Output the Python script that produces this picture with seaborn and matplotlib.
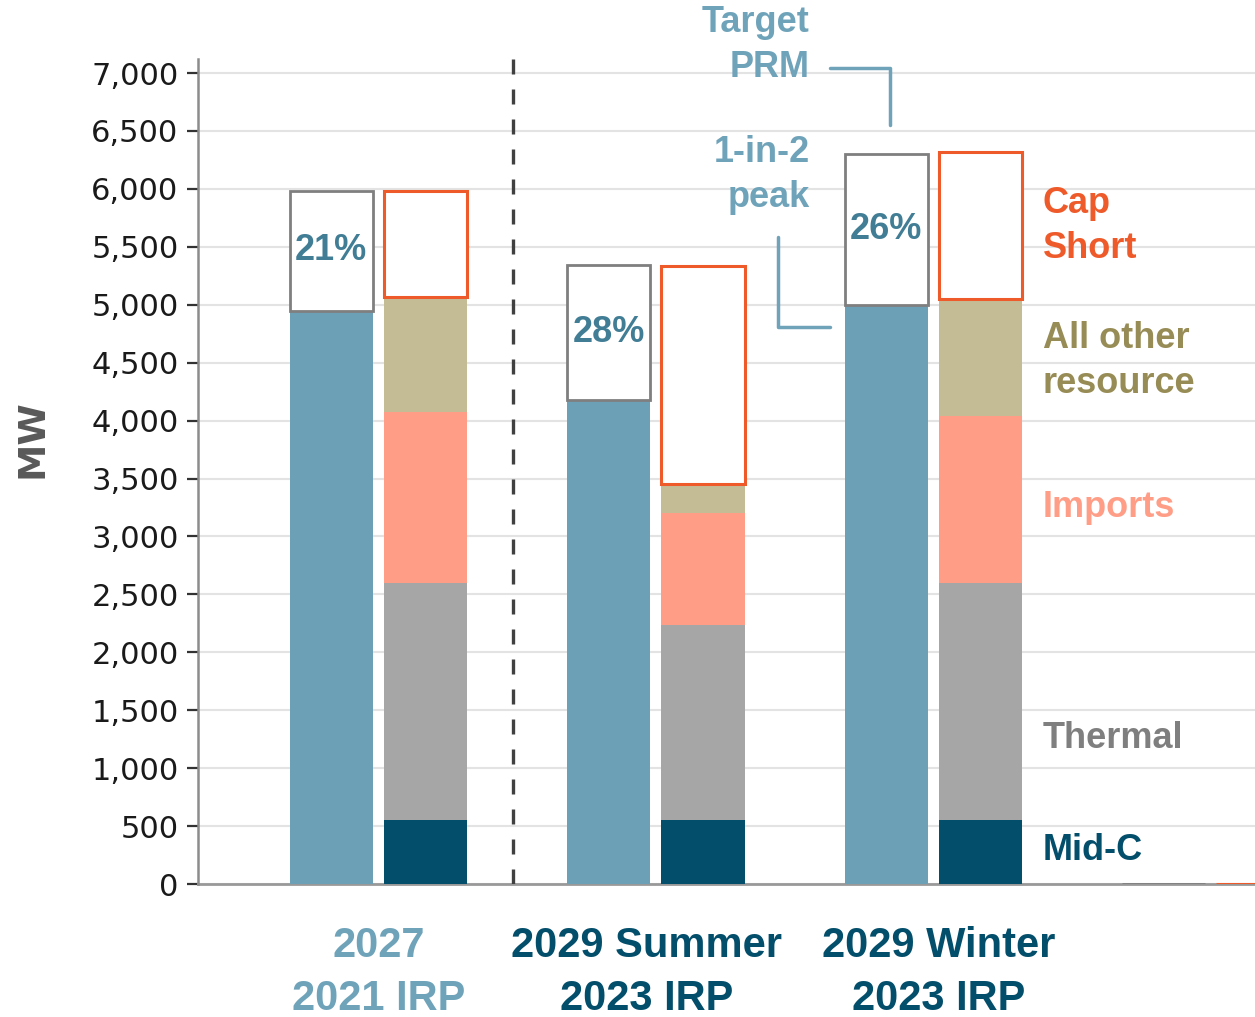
import numpy as np
import pandas as pd
import seaborn as sns
import matplotlib.pyplot as plt
from matplotlib.ticker import FuncFormatter

# data (MW), last group is an empty placeholder
groups = ['2027\n2021 IRP', '2029 Summer\n2023 IRP', '2029 Winter\n2023 IRP', '']
peak = [4950, 4175, 5000, 0]          # 1-in-2 peak
target_prm = [5980, 5340, 6300, 0]    # peak + planning reserve margin
prm_pct = ['21%', '28%', '26%']
mid_c = [550, 550, 550, 0]
thermal = [2050, 1685, 2050, 0]
imports = [1475, 965, 1440, 0]
all_other = [990, 250, 1010, 0]
cap_short = [915, 1880, 1270, 0]

c_peak = '#6ca0b7'
c_midc = '#034e6b'
c_thermal = '#a6a6a6'
c_imports = '#ff9d86'
c_other = '#c3bc95'
c_short = '#ee5a29'
c_anno = '#6fa3ba'

sns.set_style('white')
plt.rcParams['font.family'] = ['Liberation Sans', 'DejaVu Sans']
bold = dict(family=['Liberation Sans', 'DejaVu Sans'], weight='bold')

fig = plt.figure(figsize=(12.55, 10.17), dpi=100)
ax = fig.add_axes([198 / 1255, 1 - 884 / 1017, 1 - 198 / 1255, (884 - 59) / 1017])

x_need = np.arange(len(groups)) - 0.17
x_res = np.arange(len(groups)) + 0.17


def seg(x, h, b, color, ec='none', lw=0):
    sns.barplot(x=x, y=h, bottom=b, native_scale=True, width=0.30, errorbar=None,
                orient='x', color=color, saturation=1, edgecolor=ec, linewidth=lw,
                zorder=2, ax=ax)


# left bars: peak + PRM box
prm_h = np.array(target_prm) - np.array(peak)
seg(x_need, peak, 0, c_peak)
seg(x_need, prm_h, peak, 'white', '#7f7f7f', 2)

# right bars: stacked resources + cap short
b = np.zeros(len(groups))
for vals, col in [(mid_c, c_midc), (thermal, c_thermal), (imports, c_imports), (all_other, c_other)]:
    seg(x_res, vals, b, col)
    b = b + np.array(vals)
seg(x_res, cap_short, b, 'white', c_short, 2.2)

# percent labels inside PRM boxes
for i, t in enumerate(prm_pct):
    ax.text(x_need[i], (peak[i] + target_prm[i]) / 2, t, ha='center', va='center',
            fontsize=26, color='#417d95', **bold)

# divider
ax.axvline(0.485, color='#404040', lw=2.4, ls=(0, (4.5, 4.5)), zorder=3)

# axes styling
ax.set_xlim(-0.65, 3.159)
ax.set_ylim(0, 7121)
ax.set_yticks(np.arange(0, 7001, 500))
ax.yaxis.set_major_formatter(FuncFormatter(lambda v, p: f'{int(v):,}'))
ax.tick_params(axis='y', labelsize=22, length=8, width=1.6, color='#333333',
               labelcolor='#1a1a1a', left=True, pad=6)
for lab in ax.get_yticklabels():
    lab.set_family('DejaVu Sans')
ax.grid(axis='y', color='#e3e3e3', lw=1.5)
ax.set_axisbelow(True)
for s in ['top', 'right']:
    ax.spines[s].set_visible(False)
ax.spines['left'].set_color('#8c8c8c')
ax.spines['left'].set_linewidth(1.8)
ax.spines['bottom'].set_color('#999999')
ax.spines['bottom'].set_linewidth(2)
ax.spines['bottom'].set_zorder(1)

ax.set_xticks(np.arange(3) + np.array([0, -0.035, 0.02]))
ax.set_xticklabels(groups[:3], fontsize=30, **bold, linespacing=1.42)
ax.tick_params(axis='x', length=0, pad=30)
for lab, col in zip(ax.get_xticklabels(), [c_anno, c_midc, c_midc]):
    lab.set_color(col)

ax.set_ylabel('MW', fontsize=27, color='#595959', weight='bold', family='DejaVu Sans')
ax.yaxis.set_label_coords(-0.14, 0.54)

# annotations
ax.text(1.555, 7241, 'Target\nPRM', ha='right', va='center', fontsize=26, color=c_anno,
        linespacing=1.4, clip_on=False, **bold)
ax.plot([1.627, 1.844, 1.844], [7042, 7042, 6550], color=c_anno, lw=2.5, clip_on=False)
ax.text(1.555, 6119, '1-in-2\npeak', ha='right', va='center', fontsize=26, color=c_anno,
        linespacing=1.4, **bold)
ax.plot([1.440, 1.440, 1.627], [5584, 4807, 4807], color=c_anno, lw=2.5)

# series labels on the right
for txt, y, col in [('Cap\nShort', 5679, c_short), ('All other\nresource', 4515, '#978c55'),
                    ('Imports', 3254, c_imports), ('Thermal', 1260, '#7f7f7f'),
                    ('Mid-C', 293, c_midc)]:
    ax.text(2.395, y, txt, ha='left', va='center', fontsize=26, color=col,
            linespacing=1.35, **bold)

plt.savefig('out.png', dpi=100)
